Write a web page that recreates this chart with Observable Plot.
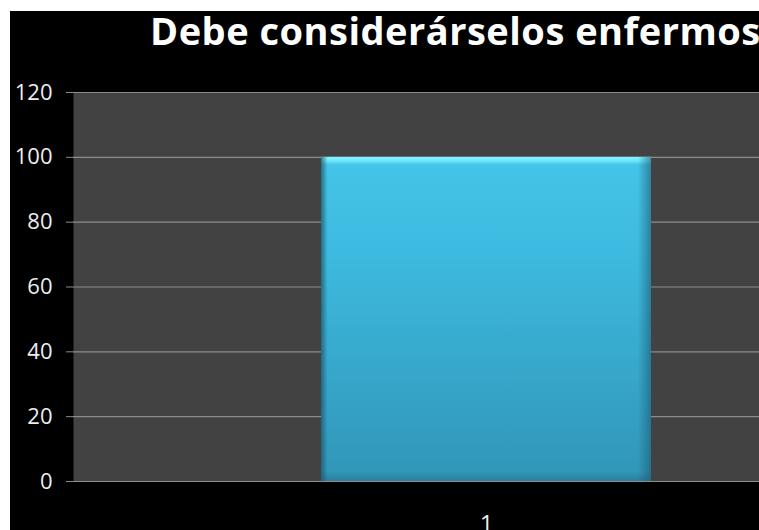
<!DOCTYPE html>
<html>
<head>
<meta charset="utf-8">
<script src="https://cdn.jsdelivr.net/npm/d3@7"></script>
<script src="https://cdn.jsdelivr.net/npm/@observablehq/plot@0.6"></script>
<style>
  html, body { margin: 0; padding: 0; background: white; }
  #wrap { position: absolute; left: 10px; top: 11px; width: 749px; height: 519px; background: black; overflow: hidden; }
  #title { height: 59px; box-sizing: border-box; padding-top: 0px; padding-left: 140px; white-space: nowrap;
           font-family: "Open Sans", sans-serif; font-weight: bold; font-size: 38px; line-height: 38px; color: white; letter-spacing: 0.5px; }
</style>
</head>
<body>
<div id="wrap"><div id="title"></div><div id="chart"></div></div>
<script>
const title = "Debe considerárselos enfermos";
const categories = ["1"];
const values = [100];
const yTicks = [0, 20, 40, 60, 80, 100, 120];

const data = categories.map((c, i) => ({cat: c, value: values[i]}));
document.getElementById("title").textContent = title;

const defs = () => {
  const ns = "http://www.w3.org/2000/svg";
  const d = document.createElementNS(ns, "defs");
  d.innerHTML = `
    <linearGradient id="barGrad" x1="0" y1="0" x2="0" y2="1">
      <stop offset="0" stop-color="#86f6ff"/>
      <stop offset="0.012" stop-color="#6fe8fb"/>
      <stop offset="0.025" stop-color="#44c4e8"/>
      <stop offset="0.3" stop-color="#3dbadf"/>
      <stop offset="0.97" stop-color="#3197b9"/>
      <stop offset="1" stop-color="#2a7e9c"/>
    </linearGradient>
    <linearGradient id="edgeGrad" x1="0" y1="0" x2="1" y2="0">
      <stop offset="0" stop-color="#1c5a70" stop-opacity="0.8"/>
      <stop offset="0.02" stop-color="#1c5a70" stop-opacity="0"/>
      <stop offset="0.96" stop-color="#1c5a70" stop-opacity="0"/>
      <stop offset="1" stop-color="#1c5a70" stop-opacity="0.6"/>
    </linearGradient>`;
  return d;
};

const chart = Plot.plot({
  width: 749,
  height: 460,
  marginTop: 22,
  marginBottom: 49,
  marginLeft: 63,
  marginRight: 0,
  style: {background: "black", color: "white", overflow: "hidden", fontFamily: "'Open Sans', sans-serif"},
  x: {domain: categories, range: [63, 888], paddingInner: 0, paddingOuter: 0.75, align: 0.5, label: null},
  y: {domain: [0, 120], label: null},
  marks: [
    defs,
    Plot.frame({fill: "#424242", stroke: "none"}),
    Plot.ruleY(yTicks, {stroke: "#8c8c8c", strokeWidth: 1.2}),
    Plot.barY(data, {x: "cat", y: "value", fill: "url(#barGrad)"}),
    Plot.barY(data, {x: "cat", y: "value", fill: "url(#edgeGrad)"}),
    Plot.axisY({ticks: yTicks, tickSize: 7, text: null, stroke: "#8c8c8c", label: null}),
    Plot.axisY({ticks: yTicks, tickSize: 0, tickPadding: 21, fontSize: 22, fill: "#eeeeee", tickFormat: d => String(d), label: null}),
    Plot.axisX({tickSize: 0, tickPadding: 33, fontSize: 24, fill: "#eeeeee", label: null})
  ]
});
document.getElementById("chart").appendChild(chart);
</script>
</body>
</html>
